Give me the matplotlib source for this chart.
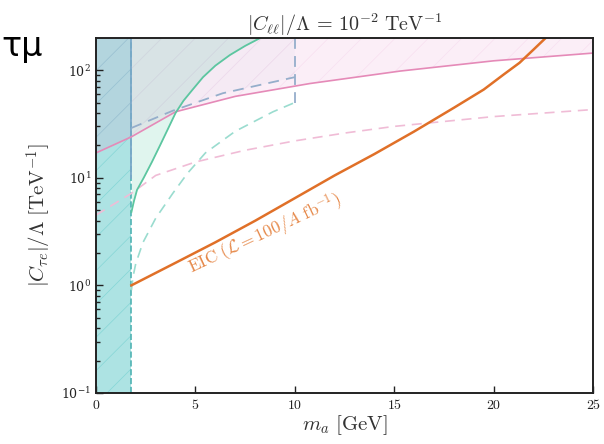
import matplotlib
matplotlib.use("Agg")
import matplotlib.pyplot as plt
import numpy as np

plt.rcParams['mathtext.fontset'] = 'cm'
plt.rcParams['font.family'] = 'serif'
plt.rcParams['font.serif'] = ['DejaVu Serif']
plt.rcParams['hatch.color'] = '#b8b8b8'
plt.rcParams['hatch.linewidth'] = 0.5

# tau threshold band
m_tau = 1.78

# pink (solid = excluded, dashed = projection)
pink_m = [0, 1.78, 4.0, 7, 10.75, 15.3, 20, 25]
pink_c = [17, 24, 41, 57, 75, 98, 122, 144]
pinkd_m = [0, 1.8, 3, 5, 7.5, 10, 12.5, 15, 20, 25]
pinkd_c = [4.5, 7.2, 10.5, 14, 18, 22, 26, 30, 37, 43]

# green
green_m = [1.78, 1.9, 2.06, 2.4, 2.81, 3.22, 3.6, 4.0, 4.4, 4.8, 5.38, 6.0, 6.73, 7.5, 8.24]
green_c = [4.8, 6.0, 7.7, 10, 14, 20, 28, 40, 52, 64, 86, 110, 138, 168, 198]
greend_m = [1.78, 1.86, 2.0, 2.36, 3.0, 3.87, 4.6, 5.5, 7.0, 8.9, 10.0]
greend_c = [0.9, 1.2, 1.6, 2.5, 4.2, 7.2, 11, 17, 27, 41, 50]

# blue dashed
blue_m = [1.78, 3.87, 6.38, 10.0]
blue_c = [29, 42, 61, 86]
blue_edge = 10.0
blue_low = 50

# EIC projection
eic_m = [1.78, 4, 6, 8, 10, 12, 14, 16, 18, 19.5, 20.5, 21.3, 22, 22.6]
eic_c = [1.0, 1.62, 2.51, 3.98, 6.46, 10.5, 16.6, 26.9, 44.7, 66, 91, 117, 155, 198]

xticks = [0, 5, 10, 15, 20, 25]
ymin, ymax = 0.1, 198

fig = plt.figure(figsize=(6.04, 4.44), dpi=100)
ax = fig.add_axes([0.159, 0.115, 0.823, 0.799])

# cyan band
ax.fill_between([0, m_tau], ymin, ymax, color='#5cc9c9', alpha=0.5, lw=0, hatch='/')
ax.axvline(m_tau, color='#4fb3b3', ls='--', lw=1.2)
ax.plot([m_tau, m_tau], [10, ymax], color='#7aa8c8', lw=1.3)

# pink
ax.fill_between(pink_m, pink_c, ymax, color='#e377c2', alpha=0.12, lw=0, hatch='/')
ax.plot(pink_m, pink_c, color='#e58ab8', lw=1.2)
ax.plot(pinkd_m, pinkd_c, color='#f0bcd6', lw=1.2, ls=(0, (6, 4)))

# green
ax.fill_between(green_m, green_c, ymax, color='#66cdaa', alpha=0.2, lw=0)
ax.plot(green_m, green_c, color='#5cc6a0', lw=1.3)
ax.plot(greend_m, greend_c, color='#9adccf', lw=1.2, ls=(0, (6, 4)))

# blue
ax.fill_between(blue_m, blue_c, ymax, color='#4a7fb0', alpha=0.03, lw=0, hatch='/')
ax.plot(blue_m, blue_c, color='#95aecb', lw=1.3, ls=(0, (6, 4)))
ax.plot([blue_edge, blue_edge], [blue_low, ymax], color='#95aecb', lw=1.3, ls=(0, (6, 4)))

# EIC
ax.plot(eic_m, eic_c, color='#e07028', lw=1.8)
ax.text(8.5, 2.95, r'$\mathrm{EIC}\ (\mathcal{L} = 100/A\ \mathrm{fb}^{-1})$',
        color='#e6894a', fontsize=12.5, rotation=25, ha='center', va='center')

ax.set_yscale('log')
ax.set_xlim(0, 25)
ax.set_ylim(ymin, ymax)
ax.set_xticks(xticks)
ax.set_xticklabels([r'$%d$' % t for t in xticks])
ax.tick_params(which='both', direction='in', top=False, right=False, labelsize=10, colors='#222222')
ax.tick_params(which='major', length=5, width=1)
ax.tick_params(which='minor', length=3, width=1)
ax.tick_params(axis='y', labelsize=9)
for s in ax.spines.values():
    s.set_linewidth(1.4)
    s.set_color('#222222')

ax.set_xlabel(r'$m_a\ [\mathrm{GeV}]$', fontsize=15, color='#333333', labelpad=1)
ax.set_ylabel(r'$|C_{\tau e}|/\Lambda\ [\mathrm{TeV}^{-1}]$', fontsize=15, color='#333333', labelpad=5)
ax.set_title(r'$|C_{\ell\ell}|/\Lambda\, =\, 10^{-2}\ \mathrm{TeV}^{-1}$', fontsize=14.5, color='#333333', pad=4)

fig.text(0.002, 0.895, 'τμ', fontsize=24, family='DejaVu Sans', color='black', ha='left', va='center')

fig.savefig('out.png', dpi=100)
